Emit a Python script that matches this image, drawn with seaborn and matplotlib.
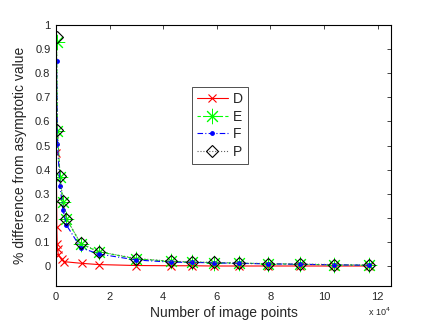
import matplotlib
matplotlib.use("Agg")
import matplotlib.pyplot as plt
import seaborn as sns
from matplotlib.ticker import FuncFormatter

# ==============================
# DATA
# ==============================
x_common = [200, 560, 1500, 2600, 3900, 9216, 15876, 29929, 42849,
            50625, 59049, 68121, 78961, 91204, 103684, 116964]
e_vals = [0.93, 0.56, 0.37, 0.265, 0.195, 0.092, 0.059, 0.03, 0.019,
          0.016, 0.014, 0.012, 0.0095, 0.007, 0.005, 0.003]
p_vals = [0.95, 0.565, 0.375, 0.268, 0.197, 0.094, 0.06, 0.031, 0.02,
          0.017, 0.015, 0.012, 0.01, 0.008, 0.006, 0.004]
f_vals = [0.85, 0.505, 0.332, 0.232, 0.17, 0.076, 0.05, 0.025, 0.016,
          0.015, 0.013, 0.011, 0.009, 0.007, 0.005, 0.003]

x_d = [100, 300, 450, 600, 900, 2100, 3000, 9600, 15876, 29929, 42849,
       50625, 59049, 68121, 78961, 91204, 103684, 116964]
d_vals = [0.47, 0.163, 0.09, 0.069, 0.046, 0.028, 0.018, 0.011, 0.006,
          0.002, 0.001, 0.001, 0.0, 0.0, 0.0, 0.0, 0.0, 0.0]

labels = ["D", "E", "F", "P"]
x_ticks = [0, 20000, 40000, 60000, 80000, 100000, 120000]
y_ticks = [0, 0.1, 0.2, 0.3, 0.4, 0.5, 0.6, 0.7, 0.8, 0.9, 1.0]

# ==============================
# PLOT
# ==============================
sns.set_style("white")
plt.rcParams["font.family"] = ["Liberation Sans", "DejaVu Sans"]

fig = plt.figure(figsize=(4.32, 3.25), dpi=100)
ax = fig.add_axes([0.1296, 0.12, 0.7755, 0.803])

sns.lineplot(x=x_d, y=d_vals, ax=ax, color="#ff0000", linestyle="-",
             marker="x", markersize=6, markeredgecolor="#ff0000",
             markeredgewidth=0.8, linewidth=0.8,
             label=labels[0], sort=False)
sns.lineplot(x=x_common, y=e_vals, ax=ax, color="#00ff00",
             linestyle=(0, (3, 2)),
             marker=(8, 2, 0), markersize=11, markeredgecolor="#00ff00",
             markeredgewidth=0.7, linewidth=0.8, label=labels[1], sort=False)
sns.lineplot(x=x_common, y=f_vals, ax=ax, color="#0000ff",
             linestyle=(0, (5, 2, 1, 2)),
             marker="o", markersize=3.5, markeredgecolor="#0000ff",
             markeredgewidth=0, linewidth=0.8, label=labels[2], sort=False)
sns.lineplot(x=x_common, y=p_vals, ax=ax, color="#606060", linestyle=":",
             marker="D", markersize=6, markerfacecolor="none",
             markeredgecolor="black", markeredgewidth=0.8, linewidth=0.8,
             label=labels[3], sort=False)

ax.set_xlim(0, 125000)
ax.set_ylim(-0.083, 1.0)
ax.set_xticks(x_ticks)
ax.set_yticks(y_ticks)
ax.xaxis.set_major_formatter(FuncFormatter(lambda v, p: f"{v / 1e4:g}"))
ax.yaxis.set_major_formatter(FuncFormatter(lambda v, p: f"{v:g}"))
ax.tick_params(direction="in", top=True, right=True, length=3,
               width=0.6, labelsize=8, pad=4)
for sp in ax.spines.values():
    sp.set_color("black")
    sp.set_linewidth(0.8)

ax.set_xlabel("Number of image points", fontsize=10, labelpad=3)
ax.set_ylabel("% difference from asymptotic value", fontsize=10, labelpad=6)
ax.text(1.0, -0.1, r"x 10$^4$", transform=ax.transAxes, ha="right",
        va="center", fontsize=6.5)

leg = ax.legend(loc="center", bbox_to_anchor=(0.49, 0.615), fontsize=10,
                frameon=True, fancybox=False, edgecolor="black",
                handlelength=2.2, handletextpad=0.4, borderpad=0.35,
                labelspacing=0.25)
leg.get_frame().set_linewidth(0.6)

fig.savefig("out.png", dpi=100, facecolor="white")
